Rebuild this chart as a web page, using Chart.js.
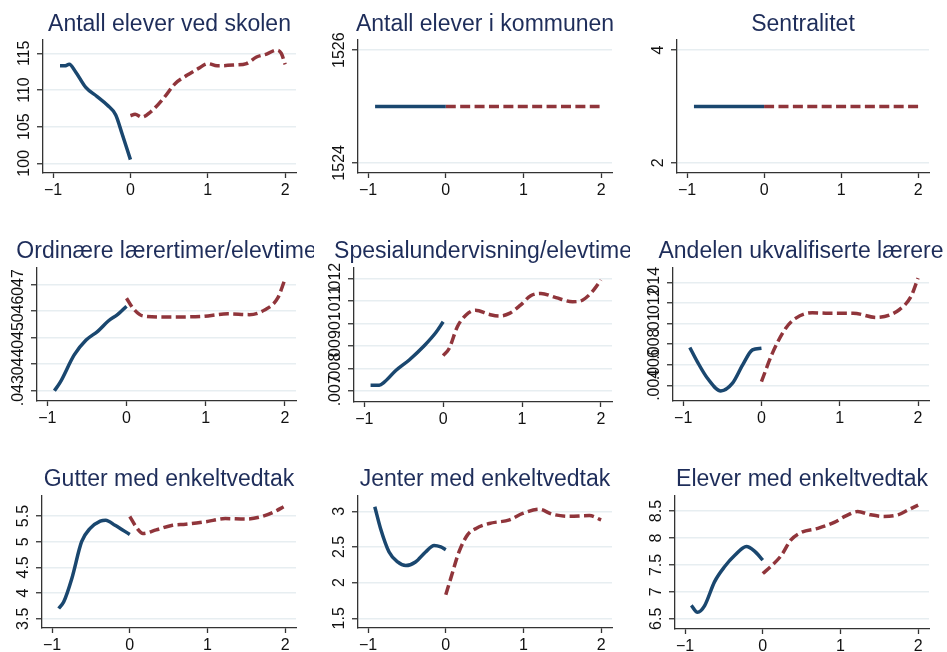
<!DOCTYPE html>
<html>
<head>
<meta charset="utf-8">
<script src="https://cdn.jsdelivr.net/npm/chart.js@4.4.1/dist/chart.umd.min.js"></script>
<style>
  html, body { margin: 0; padding: 0; background: #fff; }
  #wrap { position: relative; width: 947px; height: 652px; overflow: hidden; }
  #wrap canvas { position: absolute; }
</style>
</head>
<body>
<div id="wrap"></div>
<script>
// titles of the nine panels
const titles = [
  'Antall elever ved skolen', 'Antall elever i kommunen', 'Sentralitet',
  'Ordinære lærertimer/elevtime', 'Spesialundervisning/elevtime', 'Andelen ukvalifiserte lærere',
  'Gutter med enkeltvedtak', 'Jenter med enkeltvedtak', 'Elever med enkeltvedtak'
];
const xTicks = [-1, 0, 1, 2];

// [x, y] pairs: before (x <= 0) and after (x >= 0)
const skoleFor = [[-0.91,113.3],[-0.85,113.3],[-0.79,113.5],[-0.71,112.5],[-0.58,110.4],[-0.43,109.1],[-0.3,107.95],[-0.19,106.6],[-0.11,104.1],[0,100.5]];
const skoleEtter = [[0,106.5],[0.06,106.7],[0.15,106.3],[0.26,107.0],[0.43,108.9],[0.58,110.9],[0.73,112.0],[0.88,112.95],[1.0,113.6],[1.12,113.3],[1.33,113.4],[1.5,113.6],[1.63,114.5],[1.76,114.9],[1.89,115.45],[1.95,115.0],[2.0,113.5]];
const kommuneFor = [[-0.91,1525],[0,1525]];
const kommuneEtter = [[0,1525],[1.98,1525]];
const sentralFor = [[-0.91,3],[0,3]];
const sentralEtter = [[0,3],[2,3]];
const ordinarFor = [[-0.91,0.0430],[-0.84,0.0433],[-0.66,0.04435],[-0.51,0.04491],[-0.36,0.04525],[-0.23,0.04563],[-0.11,0.04588],[0,0.04619]];
const ordinarEtter = [[0,0.04649],[0.085,0.0461],[0.21,0.04582],[0.51,0.04578],[0.94,0.0458],[1.28,0.0459],[1.55,0.04587],[1.74,0.04604],[1.91,0.0465],[2.0,0.0472]];
const spesialFor = [[-0.92,0.00725],[-0.81,0.00725],[-0.75,0.00737],[-0.6,0.0079],[-0.43,0.00837],[-0.24,0.009],[-0.09,0.0096],[0,0.01007]];
const spesialEtter = [[0,0.00856],[0.076,0.00888],[0.18,0.00985],[0.29,0.01037],[0.41,0.01058],[0.58,0.0104],[0.71,0.01032],[0.84,0.01044],[0.98,0.01081],[1.11,0.01123],[1.24,0.01133],[1.43,0.01114],[1.64,0.01096],[1.77,0.01104],[1.89,0.01141],[2.0,0.01193]];
const ukvalFor = [[-0.915,0.00767],[-0.82,0.0063],[-0.69,0.00468],[-0.52,0.00345],[-0.37,0.0042],[-0.24,0.00598],[-0.115,0.00744],[0,0.0076]];
const ukvalEtter = [[0,0.00436],[0.14,0.00712],[0.31,0.00955],[0.44,0.01053],[0.65,0.01105],[0.82,0.01101],[1.17,0.01101],[1.47,0.01059],[1.76,0.01134],[1.91,0.01264],[2.0,0.01442]];
const gutterFor = [[-0.915,3.70],[-0.85,3.83],[-0.745,4.29],[-0.62,5.0],[-0.51,5.26],[-0.38,5.40],[-0.31,5.42],[-0.19,5.32],[0,5.14]];
const gutterEtter = [[0,5.49],[0.09,5.27],[0.17,5.16],[0.34,5.23],[0.55,5.32],[0.72,5.34],[0.98,5.39],[1.23,5.45],[1.49,5.44],[1.70,5.49],[1.87,5.59],[1.98,5.68]];
const jenterFor = [[-0.914,3.065],[-0.84,2.76],[-0.73,2.43],[-0.62,2.29],[-0.515,2.24],[-0.39,2.29],[-0.26,2.43],[-0.15,2.52],[-0.064,2.50],[0,2.46]];
const jenterEtter = [[0,1.83],[0.064,2.06],[0.17,2.43],[0.28,2.67],[0.39,2.76],[0.56,2.83],[0.82,2.88],[0.99,2.97],[1.2,3.03],[1.37,2.96],[1.59,2.93],[1.85,2.94],[2.0,2.88]];
const eleverFor = [[-0.92,6.75],[-0.84,6.62],[-0.75,6.74],[-0.62,7.19],[-0.49,7.47],[-0.36,7.68],[-0.21,7.84],[-0.11,7.76],[0,7.59]];
const eleverEtter = [[0,7.34],[0.11,7.48],[0.24,7.68],[0.36,7.96],[0.49,8.1],[0.71,8.18],[0.92,8.29],[1.07,8.41],[1.22,8.49],[1.39,8.43],[1.56,8.40],[1.74,8.43],[1.87,8.52],[2.0,8.61]];

// y tick values per panel
const skoleTicks = [100, 105, 110, 115];
const kommuneTicks = [1524, 1526];
const sentralTicks = [2, 4];
const ordinarTicks = [0.043, 0.044, 0.045, 0.046, 0.047];
const spesialTicks = [0.007, 0.008, 0.009, 0.01, 0.011, 0.012];
const ukvalTicks = [0.004, 0.006, 0.008, 0.01, 0.012, 0.014];
const gutterTicks = [3.5, 4, 4.5, 5, 5.5];
const jenterTicks = [1.5, 2, 2.5, 3];
const eleverTicks = [6.5, 7, 7.5, 8, 8.5];

const BLUE = '#1a476f', RED = '#90353b', NAVY = '#1e2d5a';
const GRID = '#e7eef1', AXIS = '#333333', TXT = '#111111';
const FONT = '"Liberation Sans", Arial, sans-serif';
const TICK_PX = 16;
Chart.defaults.font.family = FONT;

// canvas columns [left, width], rows [top, height, title baseline]
const cols = [[0, 314], [314, 316], [630, 317]];
const rows = [[0, 215, 31], [215, 223, 258], [438, 214, 486]];
// plot box [left, top, right, bottom] in page pixels
const panels = [
  { pre: skoleFor, post: skoleEtter, ticks: skoleTicks, yMin: 98.68, yMax: 116.82, plot: [43, 40, 296, 173] },
  { pre: kommuneFor, post: kommuneEtter, ticks: kommuneTicks, yMin: 1523.82, yMax: 1526.18, plot: [358, 40, 612, 173] },
  { pre: sentralFor, post: sentralEtter, ticks: sentralTicks, yMin: 1.82, yMax: 4.18, plot: [677, 40, 929, 173] },
  { pre: ordinarFor, post: ordinarEtter, ticks: ordinarTicks, yMin: 0.04261, yMax: 0.04763, plot: [37, 268, 296, 401] },
  { pre: spesialFor, post: spesialEtter, ticks: spesialTicks, yMin: 0.0065, yMax: 0.01246, plot: [354, 268, 612, 402] },
  { pre: ukvalFor, post: ukvalEtter, ticks: ukvalTicks, yMin: 0.00247, yMax: 0.0154, plot: [673, 268, 929, 401] },
  { pre: gutterFor, post: gutterEtter, ticks: gutterTicks, yMin: 3.32, yMax: 5.89, plot: [42, 496, 296, 628] },
  { pre: jenterFor, post: jenterEtter, ticks: jenterTicks, yMin: 1.364, yMax: 3.215, plot: [358, 496, 612, 628] },
  { pre: eleverFor, post: eleverEtter, ticks: eleverTicks, yMin: 6.31, yMax: 8.78, plot: [675, 496, 929, 629] }
];

// Stata style numbers: .043 instead of 0.043, real minus sign
function fmt(v) {
  const s = String(+v.toFixed(6)).replace(/^0\./, '.');
  return s.charAt(0) === '-' ? '\u2212' + s.slice(1) : s;
}

// title centred over the plot region, clipped by the canvas edge
const panelTitle = {
  id: 'panelTitle',
  afterDraw(chart, args, opts) {
    const { ctx, chartArea } = chart;
    ctx.save();
    ctx.font = '23px ' + FONT;
    ctx.fillStyle = NAVY;
    ctx.textAlign = 'center';
    ctx.textBaseline = 'alphabetic';
    ctx.fillText(opts.text, (chartArea.left + chartArea.right) / 2, opts.baseline);
    ctx.restore();
  }
};

// vertical y tick labels
const yLabels = {
  id: 'yLabels',
  afterDraw(chart) {
    const s = chart.scales.y, ctx = chart.ctx;
    ctx.save();
    ctx.font = TICK_PX + 'px ' + FONT;
    ctx.fillStyle = TXT;
    ctx.textAlign = 'center';
    ctx.textBaseline = 'alphabetic';
    s.ticks.forEach(t => {
      ctx.save();
      ctx.translate(chart.chartArea.left - 14, s.getPixelForValue(t.value));
      ctx.rotate(-Math.PI / 2);
      ctx.fillText(fmt(t.value), 0, 0);
      ctx.restore();
    });
    ctx.restore();
  }
};

const wrap = document.getElementById('wrap');

panels.forEach((p, i) => {
  const [cx, cw] = cols[i % 3];
  const [cy, ch, base] = rows[Math.floor(i / 3)];
  const [pl, pt, pr, pb] = p.plot;
  const xAxisH = ch - (pb - cy);   // x axis takes everything below the plot
  const cv = document.createElement('canvas');
  cv.width = cw; cv.height = ch;
  cv.style.left = cx + 'px'; cv.style.top = cy + 'px';
  wrap.appendChild(cv);

  const line = (pts, color, dash) => ({
    data: pts.map(([x, y]) => ({ x, y })),
    borderColor: color, borderWidth: 3.5, borderDash: dash,
    borderCapStyle: 'butt', pointRadius: 0,
    tension: 0.4, cubicInterpolationMode: 'monotone'
  });

  new Chart(cv, {
    type: 'line',
    data: { datasets: [line(p.pre, BLUE, []), line(p.post, RED, [10, 4.4])] },
    options: {
      responsive: false, animation: false, events: [],
      layout: { padding: { left: 0, top: pt - cy, right: cx + cw - pr, bottom: 0 } },
      plugins: {
        legend: { display: false }, tooltip: { enabled: false },
        panelTitle: { text: titles[i], baseline: base - cy }
      },
      scales: {
        x: {
          type: 'linear', min: -1.13, max: 2.14,
          afterBuildTicks: s => { s.ticks = xTicks.map(v => ({ value: v })); },
          afterFit: s => { s.height = xAxisH; },
          grid: { drawOnChartArea: false, tickLength: 5, tickColor: AXIS, tickWidth: 1.3 },
          border: { color: AXIS, width: 1.3 },
          ticks: { color: TXT, font: { size: TICK_PX }, padding: 3, maxRotation: 0, callback: v => fmt(v) }
        },
        y: {
          type: 'linear', min: p.yMin, max: p.yMax,
          afterBuildTicks: s => { s.ticks = p.ticks.map(v => ({ value: v })); },
          afterFit: s => { s.width = pl - cx; },
          grid: { color: GRID, lineWidth: 1.5, tickLength: 6, tickColor: AXIS, tickWidth: 1.3 },
          border: { color: AXIS, width: 1.3 },
          ticks: { display: false }
        }
      }
    },
    plugins: [panelTitle, yLabels]
  });
});
</script>
</body>
</html>
